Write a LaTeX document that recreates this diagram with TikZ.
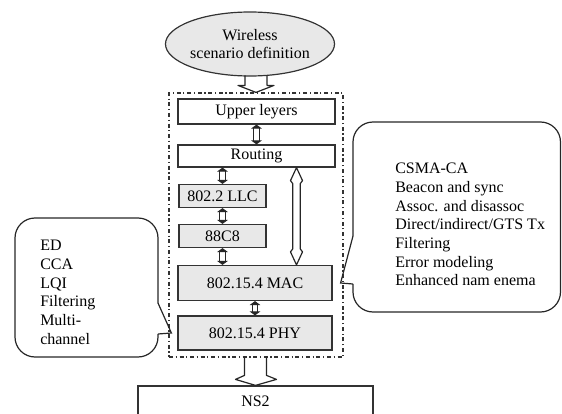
\documentclass[tikz,border=0pt]{standalone}
\usepackage{fontspec}
\setmainfont{Liberation Serif}
\usetikzlibrary{arrows.meta,shapes.geometric,calc}

\begin{document}
\begin{tikzpicture}[
  x=0.75pt, y=-0.75pt,
  font=\fontsize{12pt}{14pt}\selectfont,
  box/.style={draw=black!80, line width=0.9pt, fill=white, inner sep=0pt},
  graybox/.style={box, fill=gray!18},
  stackbox/.style={draw=black!80, line width=0.9pt, dash dot, inner sep=0pt},
  link/.style={draw=black!85, double, double distance=3.5pt, line width=0.7pt,
    {Triangle[length=3pt,width=8pt]}-{Triangle[length=3pt,width=8pt]}},
  hollow/.style={draw=black!85, line width=0.9pt, line join=round},
  balloon/.style={draw=black!85, line width=0.9pt, rounded corners=15pt}
]
  \useasboundingbox (0,0) rectangle (562,414);

  % Main nodes
  \node[ellipse, graybox, minimum width=109.5pt, minimum height=48pt, align=center] (scen) at (250,44) {Wireless\\scenario definition};
  \node[stackbox, minimum width=130.5pt, minimum height=198pt] (stack) at (256,225) {};
  \node[box, minimum width=117.75pt, minimum height=18.75pt] (upper) at (256.5,111.5) {Upper leyers};
  \node[box, minimum width=117.75pt, minimum height=16.5pt] (routing) at (256.5,156) {Routing};
  \node[graybox, minimum width=65.25pt, minimum height=17.25pt] (llc) at (222.5,196) {802.2 LLC};
  \node[graybox, minimum width=65.25pt, minimum height=17.25pt] (c88) at (222.5,236) {88C8};
  \node[graybox, minimum width=115.5pt, minimum height=26.25pt] (mac) at (255,283) {802.15.4 MAC};
  \node[graybox, minimum width=115.5pt, minimum height=25.5pt] (phy) at (255,333) {802.15.4 PHY};
  \node[box, minimum width=176.25pt, minimum height=22.5pt] (ns2) at (255.5,401) {NS2};
  \coordinate (lt) at ([xshift=30pt]routing.south);
  \coordinate (lb) at (lt |- mac.north);

  % Links between layers
  \draw[link] (upper.south -| routing.north) -- (routing.north);
  \draw[link] (routing.south -| llc.north) -- (llc.north);
  \draw[link] (llc.south) -- (c88.north);
  \draw[link] (c88.south) -- (c88.south |- mac.north);
  \draw[link] (mac.south) -- (phy.north);

  % Routing to MAC
  \draw[hollow] (lt) -- ++(-6,13) -- ++(2.25,3) -- ($(lb)+(-3.75,-16)$) -- ++(-2.25,3) -- (lb)
    -- ++(6,-13) -- ++(-2.25,-3) -- ($(lt)+(3.75,16)$) -- ++(2.25,-3) -- cycle;

  % Big arrows
  \draw[hollow] ($(stack.north)+(-11,-17)$) -- ++(0,10) -- ++(-7,0) -- (stack.north)
    -- ++(18,-7) -- ++(-7,0) -- ++(0,-10);
  \draw[hollow] ($(ns2.north)+(-11,-29)$) -- ++(0,19) -- ++(-9,4) -- (ns2.north)
    -- ++(21,-6) -- ++(-10,-4) -- ++(0,-19);

  % MAC balloon
  \draw[balloon] (353,236) -- (353,122) -- (560.5,122) -- (560.5,312) -- (353,312) -- (353,284);
  \draw[balloon, rounded corners=0pt] (353,284) -- ([xshift=6pt]mac.east) -- (353,236);
  \node[anchor=north west, inner sep=0pt, align=left] (mactxt) at (395,163)
    {CSMA-CA\\Beacon and sync\\Assoc. and disassoc\\Direct/indirect/GTS Tx\\Filtering\\Error modeling\\Enhanced nam enema};

  % PHY balloon
  \draw[balloon] (158,303) -- (158,218) -- (15,218) -- (15,357) -- (158,357) -- (158,334);
  \draw[balloon, rounded corners=0pt] (158,334) -- ([xshift=-4.5pt]phy.west) -- (158,303);
  \node[anchor=north west, inner sep=0pt, align=left] (phytxt) at (40,240)
    {ED\\CCA\\LQI\\Filtering\\Multi-\\channel};
\end{tikzpicture}
\end{document}
